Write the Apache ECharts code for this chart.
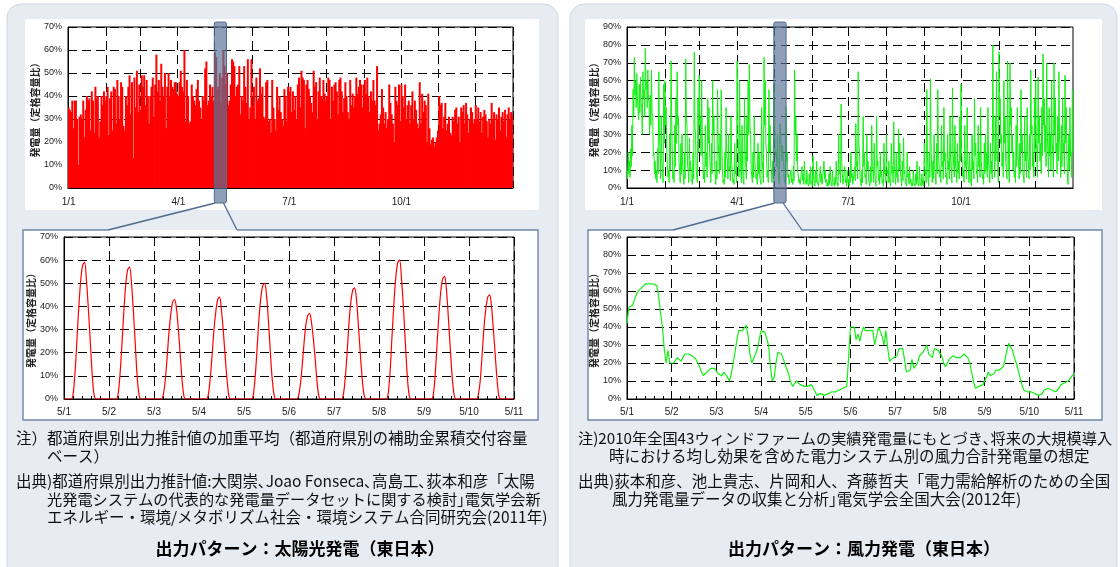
<!DOCTYPE html>
<html>
<head>
<meta charset="utf-8">
<script src="https://cdn.jsdelivr.net/npm/echarts@6/dist/echarts.min.js"></script>
<style>
html, body { margin: 0; padding: 0; background: #fff; }
#main { width: 1120px; height: 567px; }
</style>
</head>
<body>
<div id="main"></div>
<script>
// ---- data ----
var monthDays = [31, 28, 31, 30, 31, 30, 31, 31, 30, 31, 30, 31];
var yearLabelMonths = [1, 4, 7, 10];
var tenDayLabels = ['5/1', '5/2', '5/3', '5/4', '5/5', '5/6', '5/7', '5/8', '5/9', '5/10', '5/11'];
var zoomStartDay = 120;   // 5/1 (0-based day of year)
var zoomDays = 10;

// solar: daily peak output (% of rated capacity), one row per month
var solarByMonth = [
    [35,34,33,38,26,38,38,30,10,31,32,30,38,22,34,40,38,39,25,42,38,24,44,39,40,22,29,40,36,42,38],
    [40,44,23,39,42,25,44,43,28,47,40,30,46,44,27,25,40,36,44,49,32,46,13,48,35,51,33,45],
    [34,49,44,49,36,47,40,28,40,44,48,31,45,58,42,47,38,54,44,40,50,26,44,50,40,47,44,43,46,46,41],
    [40,46,51,44,42,60,29,47,40,28,29,45,40,38,36,43,47,38,35,30,40,38,52,55,36,38,45,40,44,38],
    [59,57,43,44,50,37,48,60,53,45,50,36,38,45,56,55,53,40,44,45,53,32,40,38,53,44,37,56,30,35,56],
    [36,44,30,48,38,39,52,41,44,31,30,46,47,29,30,24,47,35,30,25,44,34,40,33,30,27,43,40,29,44],
    [42,44,33,42,34,40,30,45,48,35,51,48,47,26,45,47,43,40,37,33,51,44,46,30,42,48,40,39,47,41,38],
    [40,48,47,30,44,38,45,46,42,32,47,48,42,33,39,46,40,33,30,47,36,41,35,40,48,41,44,47,45,35,45],
    [47,41,48,40,33,42,38,47,38,36,53,25,28,32,43,35,28,33,26,30,45,37,32,28,20,44,38,36,45,29],
    [45,40,35,45,30,36,38,28,36,42,30,38,34,28,26,46,28,41,33,38,36,20,41,26,19,21,22,18,20,22,25],
    [40,36,37,26,31,37,25,28,31,24,23,31,29,34,35,28,31,20,35,33,36,28,37,32,24,30,35,33,28,30],
    [36,30,35,29,33,24,31,34,32,29,22,30,28,37,30,33,21,32,30,35,25,31,33,29,34,22,32,35,30,33,32]
];

// wind: daily high and daily low output (% of rated capacity), one row per month
var windHighByMonth = [
    [10,20,15,22,35,55,73,60,64,50,58,62,45,65,55,78,60,66,48,52,66,40,20,15,10,22,65,20,40,10,58],
    [60,45,20,10,30,71,20,10,35,50,65,40,10,25,30,8,20,72,35,10,28,15,5,20,76,30,10,50],
    [63,40,60,15,10,35,20,50,45,10,25,60,40,8,15,55,20,30,55,10,5,20,45,15,30,12,40,10,5,25,10],
    [71,20,60,10,35,5,50,15,40,60,69,30,10,20,40,15,8,25,20,5,45,10,73,60,20,10,55,35,10,15],
    [58,22,20,30,5,36,22,24,15,5,45,20,8,3,10,5,12,66,40,30,10,5,3,12,8,15,5,10,3,8,12],
    [5,18,3,10,15,5,2,12,8,3,15,10,5,3,8,12,4,10,2,6,15,5,30,10,47,8,3,12,5,10],
    [5,10,20,8,3,12,36,15,65,20,5,10,40,20,8,30,15,5,12,35,10,25,5,40,15,8,20,10,5,25,10],
    [30,10,15,5,25,12,37,8,20,10,33,25,5,15,28,10,3,20,8,12,5,3,10,2,8,15,5,12,3,8,5],
    [25,10,55,5,20,61,10,15,30,8,25,55,20,10,35,15,45,20,8,30,15,40,10,56,20,35,10,25,15,40],
    [58,20,10,35,15,45,10,20,5,30,15,50,25,10,35,20,45,15,8,25,30,20,45,10,25,15,80,20,40,65,10],
    [76,50,30,20,60,40,15,71,10,70,45,30,20,10,35,45,15,25,55,30,10,40,20,45,15,30,66,35,20,50],
    [60,20,62,40,25,45,75,50,35,70,20,45,30,60,20,70,50,25,40,65,20,35,50,25,63,45,5,30,45,20,55]
];
var windLowByMonth = [
    [5,8,6,12,18,40,52,45,50,38,42,48,30,50,40,55,45,50,30,35,42,18,8,5,3,8,30,5,15,3,25],
    [35,20,6,3,10,40,5,3,12,25,35,15,3,8,12,2,5,40,12,3,10,5,2,5,35,10,3,20],
    [35,18,30,5,3,12,6,25,20,3,8,30,15,2,5,25,8,10,25,3,2,6,18,5,10,4,15,3,2,8,3],
    [35,6,25,3,12,2,20,5,15,30,35,10,3,6,15,5,2,8,6,2,15,3,35,25,6,3,20,12,3,5],
    [45,18,12,10,2,30,15,18,5,2,15,6,2,1,3,2,4,30,15,10,3,2,1,4,2,5,2,3,1,2,4],
    [1,5,1,3,4,1,1,3,2,1,5,3,1,1,2,4,1,3,1,2,4,1,8,3,15,2,1,3,1,3],
    [1,3,6,2,1,4,12,5,25,6,1,3,12,6,2,10,4,1,3,12,3,8,1,12,4,2,6,3,1,8,3],
    [8,3,4,1,8,3,12,2,6,3,10,8,1,4,8,3,1,6,2,3,1,1,3,1,2,4,1,3,1,2,1],
    [8,3,20,1,6,25,3,5,10,2,8,20,6,3,12,5,15,6,2,10,5,15,3,20,6,12,3,8,5,15],
    [20,6,3,12,5,15,3,6,1,10,5,18,8,3,12,6,15,5,2,8,10,6,15,3,8,5,30,6,15,25,3],
    [40,25,12,6,25,15,5,35,3,35,20,10,6,3,12,18,5,8,20,10,3,15,6,18,5,10,30,12,6,20],
    [25,6,25,15,8,18,35,20,12,30,6,18,10,25,6,30,20,8,15,28,6,12,20,8,25,18,2,10,18,6,20]
];

// 5/1 - 5/10 hourly output (%), one row per day
var solarHourly = [
    [0,0,0,0,0,3,13,27,41,52,58,59,51,39,25,11,2,0,0,0,0,0,0,0],
    [0,0,0,0,0,3,12,25,39,50,56,57,50,38,24,10,2,0,0,0,0,0,0,0],
    [0,0,0,0,0,2,8,18,29,37,42,43,39,30,19,8,1,0,0,0,0,0,0,0],
    [0,0,0,0,0,2,9,19,30,38,43,44,38,29,18,8,1,0,0,0,0,0,0,0],
    [0,0,0,0,0,2,10,22,35,44,49,50,45,34,21,9,2,0,0,0,0,0,0,0],
    [0,0,0,0,0,1,6,14,24,32,36,37,33,26,17,7,1,0,0,0,0,0,0,0],
    [0,0,0,0,0,2,9,20,33,42,47,48,43,32,20,9,2,0,0,0,0,0,0,0],
    [0,0,0,0,0,3,13,28,42,53,59,60,52,40,25,11,2,0,0,0,0,0,0,0],
    [0,0,0,0,0,2,11,24,37,47,52,53,47,35,22,10,2,0,0,0,0,0,0,0],
    [0,0,0,0,0,2,8,19,31,39,44,45,40,30,19,8,1,0,0,0,0,0,0,0]
];
var windHourly = [
    [42,51,52,52,53,58,60,60,62,63,64,64,64,63,64,63,63,57,48,40,28,20,27,20],
    [19,20,21,23,22,21,22,25,26,25,25,24,24,22,20,18,15,13,12,15,16,17,18,17],
    [16,14,14,13,15,16,12,10,14,20,26,33,38,37,38,37,41,35,25,20,21,25,28,33],
    [38,38,37,37,30,18,10,12,20,26,27,25,22,19,19,13,9,7,8,10,9,8,7,7],
    [7,7,7,8,6,4,2,2,3,3,2,2,3,3,4,4,4,4,5,5,6,6,7,8],
    [40,41,40,33,36,32,37,40,38,39,38,37,38,30,35,40,41,35,30,38,28,21,22,23],
    [22,24,28,29,28,22,15,14,16,22,17,18,20,24,25,26,27,30,25,24,23,28,28,27],
    [26,24,20,18,20,22,23,24,23,23,24,23,24,25,24,23,20,15,10,6,5,7,7,8],
    [9,12,15,13,12,14,16,17,16,15,18,22,27,31,30,27,23,20,16,12,8,5,4,4],
    [4,4,4,3,3,2,2,3,5,6,6,6,5,5,4,5,6,8,8,9,9,10,11,13]
];
var windLastValue = 14; // 5/11 0:00

// notes: [text, x, y, font size]
var notesSolar = [
    ['注）都道府県別出力推計値の加重平均（都道府県別の補助金累積交付容量', 16, 438, 15.5],
    ['ベース）', 47, 456, 15.5],
    ['出典)都道府県別出力推計値:大関崇､Joao Fonseca､高島工､荻本和彦「太陽', 16, 481, 15.5],
    ['光発電システムの代表的な発電量データセットに関する検討｣電気学会新', 47, 499, 15.2],
    ['エネルギー・環境/メタボリズム社会・環境システム合同研究会(2011年)', 47, 517, 15.5]
];
var notesWind = [
    ['注)2010年全国43ウィンドファームの実績発電量にもとづき､将来の大規模導入', 578, 438, 15.2],
    ['時における均し効果を含めた電力システム別の風力合計発電量の想定', 609, 456, 15.5],
    ['出典)荻本和彦、池上貴志、片岡和人、斉藤哲夫「電力需給解析のための全国', 578, 481, 15.5],
    ['風力発電量データの収集と分析｣電気学会全国大会(2012年)', 612, 499, 15.5]
];
var titleSolar = '出力パターン：太陽光発電（東日本）';
var titleWind = '出力パターン：風力発電（東日本）';
var yName = '発電量（定格容量比）';

// ---- build ----
var yearDays = [], halfDays = [];
var monthStart = {};
monthDays.forEach(function (n, m) {
    monthStart[yearDays.length] = m + 1;
    for (var d = 1; d <= n; d++) {
        yearDays.push((m + 1) + '/' + d);
        halfDays.push((m + 1) + '/' + d, (m + 1) + '/' + d + ' 12:00');
    }
});
var solarDaily = [].concat.apply([], solarByMonth);
var windHigh = [].concat.apply([], windHighByMonth);
var windLow = [].concat.apply([], windLowByMonth);
var windHalfDaily = [];
windHigh.forEach(function (v, i) { windHalfDaily.push(v, windLow[i]); });

function hourlyPairs(rows, last) {
    var out = [];
    rows.forEach(function (row, d) {
        row.forEach(function (v, h) { out.push([d * 24 + h, v]); });
    });
    if (last != null) out.push([rows.length * 24, last]);
    return out;
}

var JP = '"Noto Sans CJK JP", "Noto Sans", sans-serif';
var LAT = '"Liberation Sans", Arial, sans-serif';
var dashed = { color: '#000', type: [9, 5], width: 1 };

function yAxis(grid, max) {
    return {
        type: 'value', gridIndex: grid, min: 0, max: max, interval: 10,
        name: yName, nameLocation: 'middle', nameRotate: 90, nameGap: 27,
        nameTextStyle: { fontFamily: JP, fontSize: 10, fontWeight: 'bold', color: '#222' },
        axisLine: { show: true, lineStyle: { color: '#000' } },
        axisTick: { show: false },
        axisLabel: { formatter: '{value}%', fontFamily: LAT, fontSize: 9, color: '#222', margin: 6 },
        splitLine: { show: true, lineStyle: dashed }
    };
}

// step = categories per day (1 for daily bars, 2 for half-day line)
function yearAxis(grid, cats, step, onBand) {
    function dayOf(i) { return i % step === 0 ? i / step : -1; }
    return {
        type: 'category', gridIndex: grid, data: cats, boundaryGap: onBand,
        axisLine: { show: true, lineStyle: { color: '#000' } },
        axisTick: { show: false },
        axisLabel: {
            interval: function (i) { return yearLabelMonths.indexOf(monthStart[dayOf(i)]) >= 0; },
            formatter: function (v) { return v.split(' ')[0]; },
            fontFamily: LAT, fontSize: 10, color: '#222', margin: 9
        },
        splitLine: {
            show: true,
            interval: function (i) { return i > 0 && monthStart[dayOf(i)] != null; },
            lineStyle: dashed
        }
    };
}

function tenDayAxis(grid) {
    return {
        type: 'value', gridIndex: grid, min: 0, max: zoomDays * 24, interval: 24,
        axisLine: { show: true, lineStyle: { color: '#000' } },
        axisTick: { show: true, inside: true, length: 4, lineStyle: { color: '#000' } },
        minorTick: { show: true, splitNumber: 5, length: 3, lineStyle: { color: '#000' } },
        axisLabel: {
            formatter: function (v) { return tenDayLabels[Math.round(v / 24)]; },
            fontFamily: LAT, fontSize: 10, color: '#222', margin: 8
        },
        splitLine: { show: true, lineStyle: dashed }
    };
}

var gridBase = { show: true, borderColor: '#000', borderWidth: 1, backgroundColor: 'transparent', containLabel: false, outerBoundsMode: 'none' };
function grid(l, t, w, h) { return Object.assign({ left: l, top: t, width: w, height: h }, gridBase); }

var chart = echarts.init(document.getElementById('main'), null, { renderer: 'canvas' });
var option = {
    animation: false,
    backgroundColor: '#fff',
    grid: [
        grid(68, 27, 445, 161),
        grid(64, 237, 450, 162),
        grid(627, 27, 446, 161),
        grid(627, 237, 447, 162)
    ],
    xAxis: [yearAxis(0, yearDays, 1, true), tenDayAxis(1), yearAxis(2, halfDays, 2, false), tenDayAxis(3)],
    yAxis: [yAxis(0, 70), yAxis(1, 70), yAxis(2, 90), yAxis(3, 90)],
    series: [
        { type: 'bar', xAxisIndex: 0, yAxisIndex: 0, data: solarDaily, barWidth: 2,
          itemStyle: { color: '#ff0000' } },
        { type: 'line', xAxisIndex: 1, yAxisIndex: 1, data: hourlyPairs(solarHourly, 0),
          showSymbol: false, smooth: 0.3, lineStyle: { color: '#ff0000', width: 1.2 } },
        { type: 'line', xAxisIndex: 2, yAxisIndex: 2, data: windHalfDaily,
          showSymbol: false, lineStyle: { color: '#14f014', width: 1 } },
        { type: 'line', xAxisIndex: 3, yAxisIndex: 3, data: hourlyPairs(windHourly, windLastValue),
          showSymbol: false, lineStyle: { color: '#14f014', width: 1.2 } }
    ]
};
chart.setOption(option);

// ---- decoration: panels, zoom marker, callout boxes, notes ----
var PANEL = '#e7ebf2', PANEL_EDGE = '#cfd7e3', BOX_EDGE = '#6d87a5', MARK = '#4d6b8e';
var panels = [
    { x: 7, w: 551, top: { x: 25, w: 514 }, box: { x: 23, w: 515 }, notes: notesSolar, title: titleSolar, titleX: 300,
      xi: 0, step: 1, onBand: true },
    { x: 570, w: 547, top: { x: 585, w: 517 }, box: { x: 588, w: 514 }, notes: notesWind, title: titleWind, titleX: 864,
      xi: 2, step: 2, onBand: false }
];
var boxTop = 230, boxBottom = 420;
var g = [];
panels.forEach(function (p) {
    g.push({ type: 'rect', z: -10, shape: { x: p.x, y: 4, width: p.w, height: 580, r: 14 },
             style: { fill: PANEL, stroke: PANEL_EDGE, lineWidth: 1 } });
    g.push({ type: 'rect', z: -9, shape: { x: p.top.x, y: 19, width: p.top.w, height: 191 }, style: { fill: '#fff' } });
    g.push({ type: 'rect', z: -9, shape: { x: p.box.x, y: boxTop, width: p.box.w, height: boxBottom - boxTop }, style: { fill: '#fff' } });

    // zoom marker positioned through the axis scale
    var c0 = chart.convertToPixel({ xAxisIndex: p.xi, yAxisIndex: p.xi }, [zoomStartDay * p.step, 0]);
    var c1 = chart.convertToPixel({ xAxisIndex: p.xi, yAxisIndex: p.xi }, [(zoomStartDay + zoomDays) * p.step, 0]);
    var half = p.onBand ? (c1[0] - c0[0]) / zoomDays / 2 : 0;
    var xl = c0[0] - half, xr = c1[0] - half;
    var plotTop = chart.convertToPixel({ yAxisIndex: p.xi }, p.xi === 0 ? 70 : 90);
    var yb = c0[1] + 15, yt = plotTop - 5;
    g.push({ type: 'rect', z: 100, shape: { x: xl, y: yt, width: xr - xl, height: yb - yt, r: 2 },
             style: { fill: 'rgba(88,114,150,0.68)', stroke: MARK, lineWidth: 1 } });
    var gl = p.box.x + 85, gr = p.box.x + 214, bx1 = p.box.x + p.box.w;
    g.push({ type: 'polyline', z: 100, shape: { points: [[xl + 1, yb], [gl, boxTop]] }, style: { stroke: MARK, lineWidth: 1.3, fill: null } });
    g.push({ type: 'polyline', z: 100, shape: { points: [[xr - 3, yb], [gr, boxTop]] }, style: { stroke: MARK, lineWidth: 1.3, fill: null } });
    g.push({ type: 'polyline', z: 100, shape: { points: [[gl, boxTop], [p.box.x, boxTop], [p.box.x, boxBottom], [bx1, boxBottom], [bx1, boxTop], [gr, boxTop]] },
             style: { stroke: BOX_EDGE, lineWidth: 1.4, fill: null } });

    p.notes.forEach(function (n) {
        g.push({ type: 'text', z: 100, style: { text: n[0], x: n[1], y: n[2], fill: '#111',
                 font: n[3] + 'px ' + JP, verticalAlign: 'middle' } });
    });
    g.push({ type: 'text', z: 100, style: { text: p.title, x: p.titleX, y: 549, fill: '#000',
             font: 'bold 17px ' + JP, align: 'center', verticalAlign: 'middle' } });
});
chart.setOption({ graphic: { elements: g } });
</script>
</body>
</html>
